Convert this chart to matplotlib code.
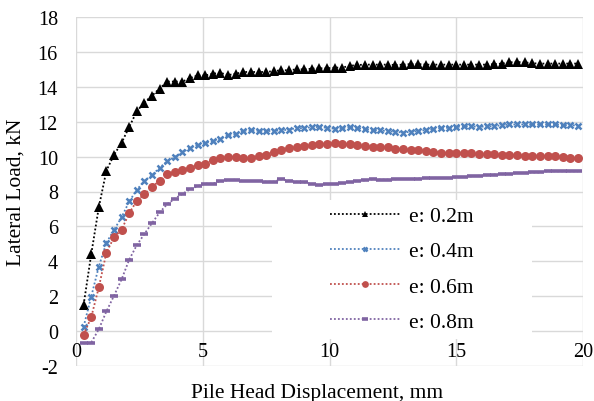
import matplotlib
matplotlib.use('Agg')
import matplotlib.pyplot as plt
from matplotlib.patches import Rectangle

# Displacement steps (mm)
displacement = [0.3, 0.6, 0.9, 1.2, 1.5, 1.8, 2.1, 2.4, 2.7, 3.0,
                3.3, 3.6, 3.9, 4.2, 4.5, 4.8, 5.1, 5.4, 5.7, 6.0,
                6.3, 6.6, 6.9, 7.2, 7.5, 7.8, 8.1, 8.4, 8.7, 9.0,
                9.3, 9.6, 9.9, 10.2, 10.5, 10.8, 11.1, 11.4, 11.7, 12.0,
                12.3, 12.6, 12.9, 13.2, 13.5, 13.8, 14.1, 14.4, 14.7, 15.0,
                15.3, 15.6, 15.9, 16.2, 16.5, 16.8, 17.1, 17.4, 17.7, 18.0,
                18.3, 18.6, 18.9, 19.2, 19.5, 19.8]

# Lateral load (kN) for each eccentricity
load_e02 = [1.5, 4.4, 7.1, 9.2, 10.1, 10.8, 11.7, 12.6, 13.1, 13.5,
            13.9, 14.3, 14.3, 14.3, 14.5, 14.65, 14.65, 14.75, 14.8, 14.67,
            14.75, 14.85, 14.85, 14.85, 14.85, 14.9, 14.95, 14.95, 15.0, 15.0,
            15.04, 15.06, 15.06, 15.1, 15.1, 15.2, 15.25, 15.27, 15.27, 15.27,
            15.27, 15.25, 15.27, 15.3, 15.3, 15.27, 15.27, 15.27, 15.27, 15.27,
            15.27, 15.27, 15.27, 15.27, 15.3, 15.33, 15.4, 15.42, 15.4, 15.35,
            15.33, 15.33, 15.33, 15.33, 15.33, 15.33]
load_e04 = [0.25, 1.97, 3.7, 5.07, 5.8, 6.53, 7.43, 8.1, 8.62, 8.93,
            9.37, 9.73, 9.98, 10.25, 10.5, 10.69, 10.78, 10.88, 11.03, 11.22,
            11.3, 11.48, 11.5, 11.48, 11.46, 11.48, 11.5, 11.55, 11.63, 11.63,
            11.69, 11.7, 11.65, 11.6, 11.63, 11.7, 11.65, 11.57, 11.53, 11.5,
            11.46, 11.42, 11.38, 11.42, 11.46, 11.53, 11.59, 11.65, 11.65, 11.7,
            11.74, 11.74, 11.7, 11.74, 11.74, 11.8, 11.84, 11.84, 11.84, 11.84,
            11.84, 11.84, 11.84, 11.8, 11.8, 11.78]
load_e06 = [-0.21, 0.79, 2.51, 4.5, 5.38, 5.82, 6.76, 7.47, 7.84, 8.26,
            8.62, 8.98, 9.12, 9.26, 9.37, 9.5, 9.6, 9.79, 9.92, 9.98,
            9.98, 9.92, 9.92, 10.04, 10.11, 10.25, 10.4, 10.5, 10.55, 10.59,
            10.67, 10.71, 10.75, 10.78, 10.75, 10.71, 10.65, 10.61, 10.55, 10.55,
            10.54, 10.46, 10.42, 10.4, 10.36, 10.33, 10.27, 10.23, 10.19, 10.19,
            10.19, 10.19, 10.17, 10.13, 10.13, 10.11, 10.11, 10.09, 10.06, 10.06,
            10.04, 10.04, 10.02, 9.98, 9.94, 9.94]
load_e08 = [-0.7, -0.66, 0.11, 1.13, 2.03, 2.97, 4.1, 4.93, 5.57, 6.19,
            6.8, 7.28, 7.59, 7.87, 8.12, 8.31, 8.45, 8.45, 8.6, 8.64,
            8.68, 8.6, 8.6, 8.6, 8.56, 8.56, 8.7, 8.62, 8.56, 8.52,
            8.43, 8.37, 8.41, 8.43, 8.48, 8.54, 8.6, 8.64, 8.7, 8.68,
            8.68, 8.7, 8.72, 8.72, 8.74, 8.76, 8.78, 8.78, 8.78, 8.81,
            8.83, 8.87, 8.9, 8.93, 8.97, 8.99, 9.01, 9.05, 9.07, 9.09,
            9.09, 9.16, 9.16, 9.16, 9.16, 9.16]

labels = ['e: 0.2m', 'e: 0.4m', 'e: 0.6m', 'e: 0.8m']
x_ticks = [0, 5, 10, 15, 20]
y_ticks = [-2, 0, 2, 4, 6, 8, 10, 12, 14, 16, 18]

plt.rcParams['font.family'] = ['Liberation Serif', 'DejaVu Serif']
plt.rcParams['font.size'] = 14.5
plt.rcParams['axes.unicode_minus'] = False

fig = plt.figure(figsize=(5.94, 4.02), dpi=100)
ax = fig.add_axes([76 / 594, 35 / 402, 507 / 594, 349 / 402])

# marker, colour and marker sizes for each series
styles = [
    dict(color='black', marker='^', markersize=6.5, mew=0),
    dict(color='#4F81BD', marker='x', markersize=4.5, mew=1.8),
    dict(color='#C0504D', marker='o', markersize=6.5, mew=0),
    dict(color='#8064A2', marker='_', markersize=6, mew=2.6),
]
series = [load_e02, load_e04, load_e06, load_e08]
for values, label, st in zip(series, labels, styles):
    ax.plot(displacement, values, linestyle=(0, (1, 1.2)), linewidth=1.3,
            label=label, zorder=2, **st)

ax.set_xlim(0, 20)
ax.set_ylim(-2, 18)
ax.set_xticks(x_ticks)
ax.set_yticks(y_ticks)

# grid in light grey, no frame; x labels sit under the y = 0 line
ax.grid(True, color='#D9D9D9', linewidth=1.0)
ax.set_axisbelow(True)
for side in ['top', 'right', 'left', 'bottom']:
    ax.spines[side].set_visible(False)
ax.spines['bottom'].set_position(('data', 0))
ax.tick_params(axis='both', length=0, colors='black')
ax.tick_params(axis='y', pad=13)
ax.tick_params(axis='x', pad=8)

ax.set_xlabel('Pile Head Displacement, mm', fontsize=15.5)
ax.xaxis.set_label_coords(0.475, -0.05)
ax.set_ylabel('Lateral Load, kN', fontsize=15.5)
ax.yaxis.set_label_coords(-0.1, 0.5)

# white backing behind the legend hides the grid there
ax.add_patch(Rectangle((0.387, 0.077), 0.512, 0.40, transform=ax.transAxes,
                       facecolor='white', edgecolor='none', zorder=0.8))
ax.legend(loc='center', bbox_to_anchor=(0.643, 0.278), frameon=False,
          fontsize=15.5, markerscale=0.75,
          handlelength=3.3, handletextpad=0.4, labelspacing=0.7)

plt.savefig('out.png', dpi=100)
